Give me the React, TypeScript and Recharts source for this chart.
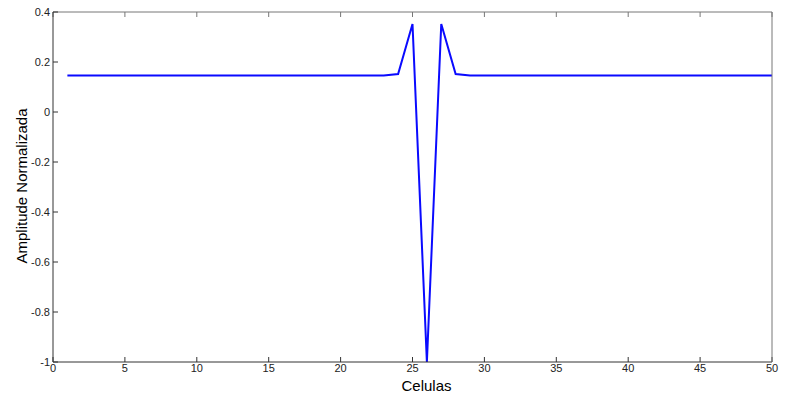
import { LineChart, Line, XAxis, YAxis } from 'recharts'

const celulas = Array.from({ length: 50 }, (_, i) => i + 1)
const amplitude = [
  0.146, 0.146, 0.146, 0.146, 0.146, 0.146, 0.146, 0.146, 0.146, 0.146,
  0.146, 0.146, 0.146, 0.146, 0.146, 0.146, 0.146, 0.146, 0.146, 0.146,
  0.146, 0.146, 0.146, 0.152, 0.352, -1.0, 0.352, 0.152, 0.146, 0.146,
  0.146, 0.146, 0.146, 0.146, 0.146, 0.146, 0.146, 0.146, 0.146, 0.146,
  0.146, 0.146, 0.146, 0.146, 0.146, 0.146, 0.146, 0.146, 0.146, 0.146,
]
const xTicks = [0, 5, 10, 15, 20, 25, 30, 35, 40, 45, 50]
const yTicks = [-1, -0.8, -0.6, -0.4, -0.2, 0, 0.2, 0.4]

const data = celulas.map((c, i) => ({ x: c, y: amplitude[i] }))

const font = '"Liberation Sans", Arial, sans-serif'
const tickStyle = { fill: '#222', fontSize: 11, fontFamily: '"Liberation Sans Narrow", "Liberation Sans", sans-serif' }

export default function App() {
  return (
    <div style={{ width: 791, height: 396, background: '#fff', position: 'relative' }}>
      <style>{'html, body { margin: 0; padding: 0; background: #fff; }'}</style>
      <LineChart width={791} height={396} data={data} margin={{ top: 11, right: 18, bottom: 0, left: 0 }}>
        <XAxis
          xAxisId="b"
          dataKey="x"
          type="number"
          domain={[0, 50]}
          ticks={xTicks}
          interval={0}
          stroke="#333"
          tickSize={-5}
          tickMargin={7}
          tick={tickStyle}
          height={34}
          label={{
            value: 'Celulas',
            position: 'insideBottom',
            offset: 5,
            dx: 14,
            fill: '#000',
            fontSize: 15,
            fontFamily: font,
          }}
        />
        <XAxis
          xAxisId="t"
          orientation="top"
          dataKey="x"
          type="number"
          domain={[0, 50]}
          ticks={xTicks}
          interval={0}
          stroke="#777"
          tickSize={-5}
          tickFormatter={() => ''}
          height={1}
        />
        <YAxis
          yAxisId="l"
          type="number"
          domain={[-1, 0.4]}
          ticks={yTicks}
          interval={0}
          stroke="#333"
          tickSize={-5}
          tickMargin={8}
          tick={tickStyle}
          width={53}
        />
        <YAxis
          yAxisId="r"
          orientation="right"
          type="number"
          domain={[-1, 0.4]}
          ticks={yTicks}
          interval={0}
          stroke="#777"
          tickSize={-5}
          tickFormatter={() => ''}
          width={1}
        />
        <Line
          xAxisId="b"
          yAxisId="l"
          dataKey="y"
          stroke="#0a0aff"
          strokeWidth={2}
          dot={false}
          type="linear"
          isAnimationActive={false}
        />
      </LineChart>
      <div
        style={{
          position: 'absolute',
          left: 21,
          top: 186,
          transform: 'translate(-50%, -50%) rotate(-90deg)',
          whiteSpace: 'nowrap',
          fontFamily: font,
          fontSize: 15,
          lineHeight: '17px',
          color: '#000',
        }}
      >
        Amplitude Normalizada
      </div>
    </div>
  )
}
